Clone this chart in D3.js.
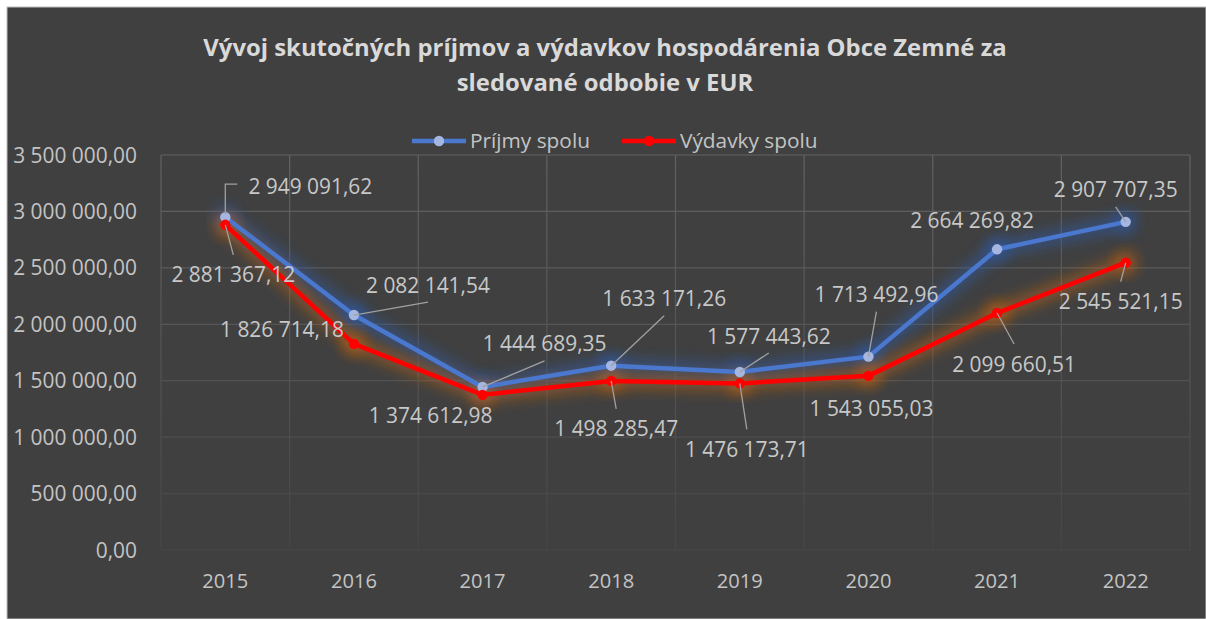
<!DOCTYPE html>
<html><head><meta charset="utf-8">
<script src="https://cdn.jsdelivr.net/npm/d3@7/dist/d3.min.js"></script>
<style>
html,body{margin:0;padding:0;background:#fff;}
svg{display:block;font-family:"Open Sans",sans-serif;}
</style></head>
<body>
<svg id="c" width="1206" height="619"></svg>
<script>
// ---------- data ----------
const years = ["2015","2016","2017","2018","2019","2020","2021","2022"];
const prijmy = [2949091.62, 2082141.54, 1444689.35, 1633171.26, 1577443.62, 1713492.96, 2664269.82, 2907707.35];
const vydavky = [2881367.12, 1826714.18, 1374612.98, 1498285.47, 1476173.71, 1543055.03, 2099660.51, 2545521.15];
const yTicks = [0, 500000, 1000000, 1500000, 2000000, 2500000, 3000000, 3500000];
const seriesNames = ["Príjmy spolu", "Výdavky spolu"];
const titleLines = ["Vývoj skutočných príjmov a výdavkov hospodárenia Obce Zemné za", "sledované odbobie v EUR"];

// ---------- layout (label placement, px offsets from point; leader type) ----------
const prijmyLabelPos = [[85,-31,"elbow"],[74,-30,"bottom"],[62,-43,"bottom"],[53,-67,"bottom"],[29,-36,"bottom"],[8,-62,"bottom"],[-25,-29,null],[-10,-32,"bottom"]];
const vydavkyLabelPos = [[8,50,"top"],[-72,-14,null],[-52,21,null],[5,48,"top"],[7,66,"top"],[3,33,null],[17,51,"top"],[-5,39,"top"]];

const locale = d3.formatLocale({decimal:",", thousands:"\u00a0", grouping:[3], currency:["","€"]});
const fmt = locale.format(",.2f");
const fmtSp = v => fmt(v).replace(/\u00a0/g," ");

const svg = d3.select("#c");
const W = 1206, H = 619;
const plot = {l:161, r:1190, t:155, b:550};

// background
svg.append("rect").attr("x",7).attr("y",7).attr("width",W-7).attr("height",H-7)
  .attr("fill","#404040").attr("stroke","#bfbfbf").attr("stroke-width",1);

const defs = svg.append("defs");
const gg = defs.append("linearGradient").attr("id","gridGrad").attr("gradientUnits","userSpaceOnUse")
  .attr("x1",0).attr("y1",plot.t).attr("x2",0).attr("y2",plot.b);
gg.append("stop").attr("offset","0%").attr("stop-color","#626262");
gg.append("stop").attr("offset","100%").attr("stop-color","#464646");

function blur(id, sd){
  const f = defs.append("filter").attr("id",id).attr("x","-30%").attr("y","-30%").attr("width","160%").attr("height","160%");
  f.append("feGaussianBlur").attr("stdDeviation",sd);
}
blur("glowB",7); blur("glowR",7);

const x = d3.scaleBand().domain(years).range([plot.l, plot.r]);
const cx = d => x(d) + x.bandwidth()/2;
const y = d3.scaleLinear().domain([0,3500000]).range([plot.b, plot.t]);

// helper: fit font size to a target width
function fitSize(text, weight, target){
  const t = svg.append("text").attr("font-size",20).attr("font-weight",weight).text(text);
  const len = t.node().getComputedTextLength(); t.remove();
  return 20*target/len;
}
const labelSize = fitSize("2 949 091,62","normal",124);
const axisSize = fitSize("3 500 000,00","normal",124);
const xSize = fitSize("2015","normal",46);
const legSize = fitSize("Príjmy spolu","normal",120);
const titleSize = fitSize(titleLines[0],"bold",804);

// gridlines
const grid = svg.append("g");
grid.selectAll("line.h").data(yTicks).join("line").attr("class","h")
  .attr("x1",plot.l).attr("x2",plot.r).attr("y1",d=>y(d)).attr("y2",d=>y(d))
  .attr("stroke","url(#gridGrad)").attr("stroke-width",1.2);
const bounds = years.map(d=>x(d)).concat([plot.r]);
grid.selectAll("line.v").data(bounds).join("line").attr("class","v")
  .attr("x1",d=>d).attr("x2",d=>d).attr("y1",plot.t).attr("y2",plot.b)
  .attr("stroke","url(#gridGrad)").attr("stroke-width",1.2);

// y axis
const yAxis = d3.axisLeft(y).tickValues(yTicks).tickFormat(fmtSp).tickSize(0).tickPadding(0);
const ya = svg.append("g").attr("transform",`translate(137,0)`).call(yAxis);
ya.select(".domain").remove();
ya.selectAll("text").attr("fill","#c4c4c4").attr("font-size",axisSize).attr("font-family","Open Sans").attr("dy","0.34em");

// x axis
const xAxis = d3.axisBottom(x).tickSize(0).tickPadding(0);
const xa = svg.append("g").attr("transform",`translate(0,574)`).call(xAxis);
xa.select(".domain").remove();
xa.selectAll("text").attr("fill","#c4c4c4").attr("font-size",xSize).attr("font-family","Open Sans").attr("dy","0.71em");

// title
svg.append("g").selectAll("text").data(titleLines).join("text")
  .attr("x",605).attr("y",(d,i)=>48+i*35).attr("dy","0.35em").attr("text-anchor","middle")
  .attr("font-weight","bold").attr("font-size",titleSize).attr("fill","#d9d9d9").text(d=>d);

// series
const series = [
  {name:seriesNames[0], values:prijmy, line:"#4a78cf", marker:"#a5b6e0", glow:"#2f5aa8", gop:0.6, filter:"glowB", pos:prijmyLabelPos},
  {name:seriesNames[1], values:vydavky, line:"#ff0000", marker:"#ff0000", glow:"#c2600f", gop:0.55, filter:"glowR", pos:vydavkyLabelPos}
];
const lineGen = d3.line().x((d,i)=>cx(years[i])).y(d=>y(d));

series.forEach(s=>{
  const g = svg.append("g");
  g.append("path").datum(s.values).attr("d",lineGen).attr("fill","none")
    .attr("stroke",s.glow).attr("stroke-width",14).attr("stroke-opacity",s.gop)
    .attr("stroke-linejoin","round").attr("filter",`url(#${s.filter})`);
  g.selectAll("circle.glow").data(s.values).join("circle").attr("class","glow")
    .attr("cx",(d,i)=>cx(years[i])).attr("cy",d=>y(d)).attr("r",12)
    .attr("fill",s.glow).attr("opacity",s.gop).attr("filter",`url(#${s.filter})`);
});
series.forEach(s=>{
  const g = svg.append("g");
  g.append("path").datum(s.values).attr("d",lineGen).attr("fill","none")
    .attr("stroke",s.line).attr("stroke-width",4.5).attr("stroke-linejoin","round");
  g.selectAll("circle.m").data(s.values).join("circle").attr("class","m")
    .attr("cx",(d,i)=>cx(years[i])).attr("cy",d=>y(d)).attr("r",5.2).attr("fill",s.marker);
});

// labels + leaders
const lg = svg.append("g");
series.forEach(s=>{
  s.values.forEach((v,i)=>{
    const px = cx(years[i]), py = y(v);
    const [dx,dy,lead] = s.pos[i];
    const lx = px+dx, ly = py+dy;
    if(lead==="elbow"){
      lg.append("path").attr("d",`M${px},${py-3}V${ly-2}H${lx-73}`)
        .attr("fill","none").attr("stroke","#a0a0a0").attr("stroke-width",1.3);
    } else if(lead==="bottom"){
      lg.append("line").attr("x1",px).attr("y1",py).attr("x2",lx).attr("y2",ly+17)
        .attr("stroke","#a0a0a0").attr("stroke-width",1.3);
    } else if(lead==="top"){
      lg.append("line").attr("x1",px).attr("y1",py).attr("x2",lx).attr("y2",ly-20)
        .attr("stroke","#a0a0a0").attr("stroke-width",1.3);
    }
    lg.append("text").attr("x",lx).attr("y",ly).attr("dy","0.36em").attr("text-anchor","middle")
      .attr("font-size",labelSize).attr("fill","#c8c8c8").text(fmtSp(v));
  });
});

// legend
const legX = [412, 622];
series.forEach((s,i)=>{
  const g = svg.append("g").attr("transform",`translate(${legX[i]},141)`);
  g.append("line").attr("x1",0).attr("x2",54).attr("stroke",s.line).attr("stroke-width",4.5);
  g.append("circle").attr("cx",27).attr("r",5.2).attr("fill",s.marker);
  g.append("text").attr("x",58).attr("dy","0.35em").attr("font-size",legSize).attr("fill","#c4c4c4").text(s.name);
});
</script>
</body></html>
